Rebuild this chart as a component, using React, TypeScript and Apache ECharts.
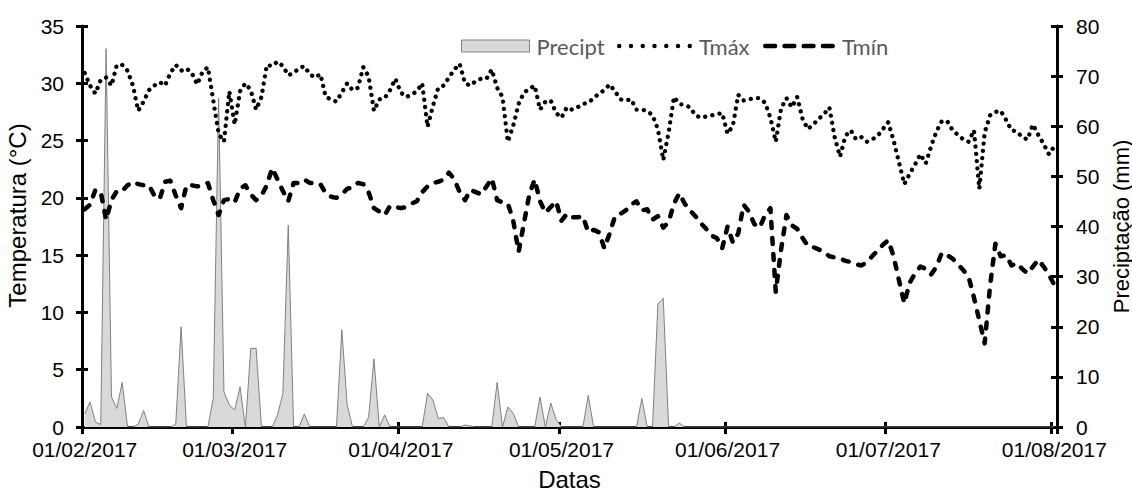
import React, { useEffect, useRef } from "react";
import * as echarts from "echarts";

// Daily series, 01/02/2017 .. 01/08/2017 (182 days)
const startDate = { year: 2017, month: 2, day: 1 };
const dayCount = 182;

const tmax: number[] = [
  30.9, 29.8, 29.1, 30.3, 30.5, 29.8, 31.6, 31.6, 31.1, 29.8,
  27.6, 28.4, 29.4, 29.8, 30.1, 29.8, 30.9, 31.6, 31.1, 31.3,
  30.9, 29.9, 31.0, 31.4, 28.5, 25.6, 24.9, 29.3, 26.4, 29.3,
  30.0, 29.4, 27.7, 28.8, 31.6, 31.5, 31.9, 31.5, 30.7, 30.9,
  31.3, 31.5, 30.8, 30.5, 30.8, 28.8, 28.6, 28.4, 29.2, 30.0,
  29.4, 29.6, 31.4, 30.6, 27.6, 28.6, 28.7, 29.4, 30.4, 29.2,
  28.8, 29.0, 29.3, 30.0, 26.2, 28.0, 29.6, 29.8, 30.5, 31.2,
  31.7, 30.0, 29.8, 30.2, 30.4, 30.4, 31.2, 29.6, 28.8, 24.9,
  26.3, 28.2, 29.2, 29.5, 29.8, 27.7, 28.4, 28.5, 27.4, 27.0,
  27.9, 27.7, 27.9, 28.2, 28.3, 28.7, 29.1, 29.4, 29.9, 29.3,
  28.6, 28.5, 28.6, 27.7, 27.7, 27.6, 27.2, 26.0, 23.3, 25.7,
  28.8, 28.2, 28.1, 27.9, 27.2, 27.0, 27.1, 27.2, 27.3, 27.4,
  25.6, 26.3, 29.0, 28.5, 28.6, 28.7, 28.7, 28.3, 27.0, 24.9,
  27.8, 28.7, 27.9, 28.8, 26.9, 26.0, 26.4, 26.9, 27.3, 27.9,
  25.3, 23.6, 25.4, 25.9, 25.1, 25.3, 24.9, 25.1, 25.4, 26.0,
  26.6, 25.0, 23.1, 21.2, 22.1, 22.9, 23.8, 23.0, 24.5, 25.8,
  26.7, 26.7, 25.9, 25.5, 25.1, 24.9, 25.9, 20.8, 25.7, 27.2,
  27.5, 27.6, 26.8, 25.9, 25.8, 25.3, 25.1, 26.4, 25.5, 24.7,
  23.8, 24.5,
];

const tmin: number[] = [
  19.0, 19.4, 20.7, 20.5, 18.1, 19.8, 20.6, 20.6, 21.1, 21.4,
  21.2, 21.1, 21.1, 20.2, 19.9, 21.4, 21.5, 20.2, 19.1, 21.1,
  21.1, 21.0, 21.1, 21.3, 19.8, 18.5, 19.8, 19.9, 19.6, 20.8,
  21.1, 20.3, 19.8, 20.2, 21.1, 22.6, 21.6, 20.6, 19.7, 21.3,
  21.3, 21.6, 21.3, 21.3, 21.2, 20.4, 20.1, 20.0, 20.3, 20.8,
  20.9, 21.3, 21.2, 20.5, 19.1, 18.8, 18.5, 19.3, 19.2, 19.1,
  19.2, 19.5, 19.7, 20.5, 21.0, 21.3, 21.4, 21.6, 22.2, 21.6,
  20.5, 19.8, 20.7, 20.5, 20.3, 21.0, 21.7, 19.8, 19.6, 19.5,
  18.0, 15.3, 17.8, 20.3, 21.6, 19.7, 18.7, 19.2, 19.7, 18.0,
  18.6, 18.3, 18.3, 18.4, 17.0, 17.2, 17.0, 15.6, 16.9, 18.4,
  18.6, 18.9, 19.4, 19.7, 18.9, 19.0, 18.1, 18.4, 17.4, 17.9,
  19.5, 20.4, 19.5, 18.9, 18.4, 17.8, 17.3, 16.7, 16.5, 15.6,
  17.5, 16.1, 16.9, 19.4, 18.8, 17.7, 17.4, 18.5, 19.1, 11.8,
  15.5, 18.5, 17.6, 17.3, 16.5, 15.8, 15.7, 15.5, 15.3, 14.9,
  14.8, 14.7, 14.5, 14.4, 14.2, 14.1, 14.4, 14.9, 15.4, 15.9,
  16.3, 14.9, 12.8, 10.8, 12.6, 13.4, 14.0, 13.8, 13.3, 14.0,
  15.2, 15.0, 14.7, 14.2, 13.7, 13.1, 11.3, 9.3, 7.3, 12.3,
  16.0, 14.9, 15.0, 14.1, 14.3, 13.8, 13.4, 14.0, 14.6, 14.0,
  13.3, 12.4,
];

const precip: number[] = [
  2.6, 5.0, 1.0, 0.5, 75.5, 6.0, 3.7, 8.9, 0, 0,
  0.6, 3.3, 0, 0, 0, 0, 0, 0.6, 20.0, 0,
  0, 0, 0, 0, 5.7, 65.6, 7.0, 4.4, 3.4, 8.0,
  0, 15.7, 15.7, 0, 0, 0, 2.4, 6.7, 40.3, 0,
  0, 2.6, 0, 0, 0, 0, 0, 0, 19.4, 4.4,
  0, 0, 0, 1.9, 13.6, 0, 2.4, 0, 0, 0,
  0, 0, 0, 0, 6.7, 5.4, 1.7, 1.9, 0, 0,
  0, 0.4, 0.2, 0, 0, 0, 0, 8.9, 0, 4.0,
  2.7, 0, 0, 0, 0, 6.0, 0, 4.8, 1.5, 0,
  0, 0, 0, 0, 6.3, 0, 0, 0, 0, 0,
  0, 0, 0, 0, 5.7, 0, 0, 24.5, 25.7, 0,
  0, 0.8, 0, 0, 0, 0, 0, 0, 0, 0,
  0, 0, 0, 0, 0, 0, 0, 0, 0, 0,
  0, 0, 0, 0, 0, 0, 0, 0, 0, 0,
  0, 0, 0, 0, 0, 0, 0, 0, 0, 0,
  0, 0, 0, 0, 0, 0, 0, 0, 0, 0,
  0, 0, 0, 0, 0, 0, 0, 0, 0, 0,
  0, 0, 0, 0, 0, 0, 0, 0, 0, 0,
  0, 0,
];

const seriesNames = { precip: "Precipt", tmax: "Tmáx", tmin: "Tmín" };
const axisNames = { x: "Datas", left: "Temperatura (°C)", right: "Preciptação (mm)" };

function pad2(n: number): string {
  return n < 10 ? "0" + n : String(n);
}

function buildDates(): string[] {
  const out: string[] = [];
  const d = new Date(Date.UTC(startDate.year, startDate.month - 1, startDate.day));
  for (let i = 0; i < dayCount; i++) {
    out.push(`${pad2(d.getUTCDate())}/${pad2(d.getUTCMonth() + 1)}/${d.getUTCFullYear()}`);
    d.setUTCDate(d.getUTCDate() + 1);
  }
  return out;
}

// legend glyphs: a row of round dots and a row of round-ended dashes
function dotsPath(count: number, step: number): string {
  const r = 2.2;
  let p = "path://";
  for (let k = 0; k < count; k++) {
    const cx = r + k * step;
    p += `M${cx - r},${r}a${r},${r} 0 1,0 ${2 * r},0a${r},${r} 0 1,0 ${-2 * r},0Z`;
  }
  return p;
}

function dashesPath(count: number, len: number, step: number): string {
  const r = 2.3;
  let p = "path://";
  for (let k = 0; k < count; k++) {
    const x0 = r + k * step;
    p += `M${x0},0h${len}a${r},${r} 0 0,1 0,${2 * r}h${-len}a${r},${r} 0 0,1 0,${-2 * r}Z`;
  }
  return p;
}

const FONT = "'Liberation Sans', Arial, sans-serif";
const LEGEND_FONT = "Lato, 'Noto Sans', sans-serif";
const TICK_SIZE = 21;

export default function App() {
  const ref = useRef<HTMLDivElement>(null);

  useEffect(() => {
    if (!ref.current) return;
    const chart = echarts.init(ref.current, undefined, { renderer: "svg" });
    const dates = buildDates();
    const isMonthStart = (_i: number, v: string) => v.startsWith("01/");

    const baseX = {
      type: "category" as const,
      data: dates,
      boundaryGap: true,
    };

    const legendText = { fontFamily: LEGEND_FONT, fontSize: 22, color: "#595959", padding: [0, 0, 0, 2] };
    const legendBase = { top: 35, padding: 0, itemHeight: 12, selectedMode: false, textStyle: legendText };

    chart.setOption({
      animation: false,
      backgroundColor: "#ffffff",
      grid: {
        left: 82,
        right: 75,
        top: 26,
        bottom: 65,
        containLabel: false,
        outerBoundsMode: "none",
      },
      legend: [
        {
          ...legendBase,
          left: 461,
          itemWidth: 68,
          data: [
            {
              name: seriesNames.precip,
              icon: "rect",
              itemStyle: { color: "#d9d9d9", borderColor: "#808080", borderWidth: 1 },
            },
          ],
        },
        {
          ...legendBase,
          left: 617,
          itemWidth: 75,
          data: [{ name: seriesNames.tmax, icon: dotsPath(7, 11.7), itemStyle: { color: "#000000" } }],
        },
        {
          ...legendBase,
          left: 763,
          itemWidth: 72,
          data: [{ name: seriesNames.tmin, icon: dashesPath(4, 9.8, 19.3), itemStyle: { color: "#000000" } }],
        },
      ],
      xAxis: [
        {
          ...baseX,
          name: axisNames.x,
          nameLocation: "middle",
          nameGap: 40,
          nameTextStyle: { fontFamily: FONT, fontSize: 24, color: "#000" },
          axisLine: { lineStyle: { color: "#000", width: 3 } },
          axisTick: { show: true, interval: isMonthStart, length: 7, lineStyle: { color: "#000", width: 3 } },
          axisLabel: { interval: isMonthStart, margin: 12, fontFamily: FONT, fontSize: TICK_SIZE, color: "#000" },
          splitLine: { show: false },
        },
        {
          ...baseX,
          position: "bottom",
          axisLine: { show: false },
          axisTick: { show: true, inside: true, interval: isMonthStart, length: 5, lineStyle: { color: "#000", width: 3 } },
          axisLabel: { show: false },
          splitLine: { show: false },
        },
      ],
      yAxis: [
        {
          type: "value",
          position: "left",
          min: 0,
          max: 35,
          interval: 5,
          name: axisNames.left,
          nameLocation: "middle",
          nameRotate: 90,
          nameGap: 49,
          nameTextStyle: { fontFamily: FONT, fontSize: 24, color: "#000", padding: [0, 0, 0, 22] },
          axisLine: { show: true, lineStyle: { color: "#000", width: 3 } },
          axisTick: { show: true, length: 6, lineStyle: { color: "#000", width: 3 } },
          axisLabel: { margin: 18, fontFamily: FONT, fontSize: TICK_SIZE, color: "#000" },
          splitLine: { show: false },
        },
        {
          type: "value",
          position: "right",
          min: 0,
          max: 80,
          interval: 10,
          name: axisNames.right,
          nameLocation: "middle",
          nameRotate: 90,
          nameGap: 41,
          nameTextStyle: { fontFamily: FONT, fontSize: 22, color: "#000" },
          axisLine: { show: true, lineStyle: { color: "#000", width: 3 } },
          axisTick: { show: true, length: 6, lineStyle: { color: "#000", width: 3 } },
          axisLabel: { margin: 19, fontFamily: FONT, fontSize: TICK_SIZE, color: "#000" },
          splitLine: { show: false },
        },
        {
          type: "value",
          position: "left",
          min: 0,
          max: 35,
          interval: 5,
          axisLine: { show: false },
          axisTick: { show: true, inside: true, length: 6, lineStyle: { color: "#000", width: 3 } },
          axisLabel: { show: false },
          splitLine: { show: false },
        },
        {
          type: "value",
          position: "right",
          min: 0,
          max: 80,
          interval: 10,
          axisLine: { show: false },
          axisTick: { show: true, inside: true, length: 6, lineStyle: { color: "#000", width: 3 } },
          axisLabel: { show: false },
          splitLine: { show: false },
        },
      ],
      series: [
        {
          name: seriesNames.precip,
          type: "line",
          xAxisIndex: 0,
          yAxisIndex: 1,
          data: precip,
          symbol: "none",
          smooth: false,
          lineStyle: { color: "#808080", width: 1 },
          itemStyle: { color: "#d9d9d9" },
          areaStyle: { color: "#d9d9d9", opacity: 1 },
          z: 1,
        },
        {
          name: seriesNames.tmax,
          type: "line",
          xAxisIndex: 0,
          yAxisIndex: 0,
          data: tmax,
          symbol: "none",
          lineStyle: { color: "#000", width: 4.3, type: [0.1, 7.2], cap: "round", join: "round" },
          itemStyle: { color: "#000" },
          z: 3,
        },
        {
          name: seriesNames.tmin,
          type: "line",
          xAxisIndex: 0,
          yAxisIndex: 0,
          data: tmin,
          symbol: "none",
          lineStyle: { color: "#000", width: 4.5, type: [6, 10], cap: "round", join: "round" },
          itemStyle: { color: "#000" },
          z: 3,
        },
      ],
    });

    return () => chart.dispose();
  }, []);

  return (
    <div
      ref={ref}
      style={{ position: "fixed", left: 0, top: 0, width: 1132, height: 492, background: "#fff" }}
    />
  );
}
